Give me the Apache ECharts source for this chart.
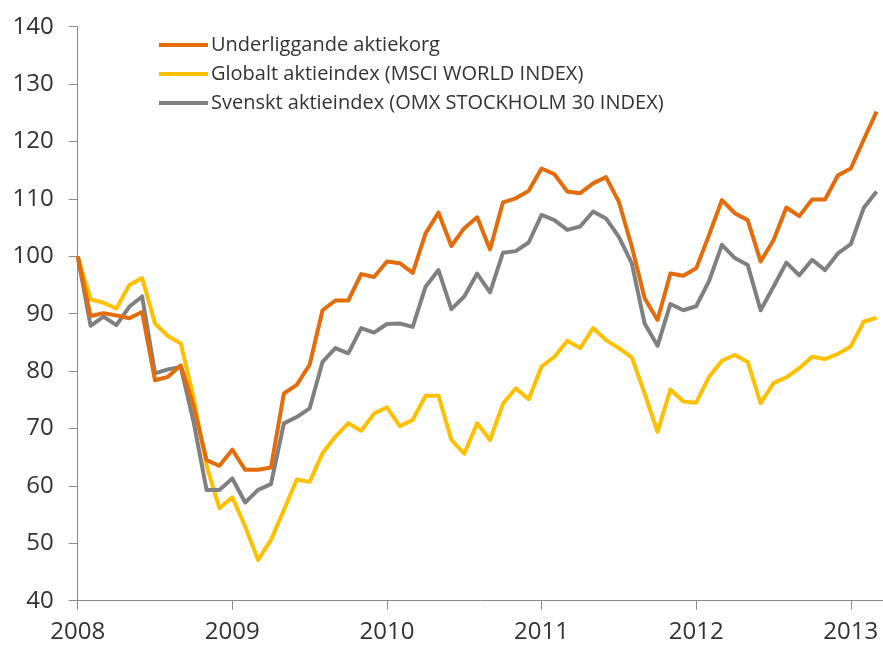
<!DOCTYPE html>
<html>
<head>
<meta charset="utf-8">
<script src="https://cdn.jsdelivr.net/npm/echarts@6/dist/echarts.min.js"></script>
<style>
  html, body { margin: 0; padding: 0; background: #fff; }
  #chart { width: 883px; height: 646px; }
</style>
</head>
<body>
<div id="chart"></div>
<script>
// monthly index values, Jan 2008 (= 100) to Mar 2013
const startYear = 2008;
const yearTicks = [2008, 2009, 2010, 2011, 2012, 2013];

const seriesNames = [
  "Underliggande aktiekorg",
  "Globalt aktieindex (MSCI WORLD INDEX)",
  "Svenskt aktieindex (OMX STOCKHOLM 30 INDEX)",
];

const underliggande = [
  100, 89.6, 90.1, 89.7, 89.2, 90.3, 78.4, 79, 81, 73.9, 64.5, 63.5,
  66.3, 62.8, 62.8, 63.2, 76.1, 77.6, 81.1, 90.6, 92.3, 92.3, 96.9, 96.4,
  99.1, 98.8, 97.1, 104, 107.6, 101.8, 104.9, 106.8, 101.2, 109.4, 110.1, 111.4,
  115.3, 114.3, 111.3, 111, 112.7, 113.8, 109.5, 101.7, 92.7, 88.9, 97, 96.6,
  97.9, 103.7, 109.8, 107.5, 106.3, 99.1, 102.8, 108.5, 107, 109.9, 109.9, 114.1,
  115.3, 120.3, 125.2,
];

const globalt = [
  100, 92.5, 91.9, 90.9, 95, 96.2, 88.3, 86.1, 84.8, 75.3, 63.5, 56.1,
  58, 52.9, 47.1, 50.6, 55.8, 61.1, 60.7, 65.7, 68.6, 70.9, 69.6, 72.6,
  73.7, 70.4, 71.5, 75.7, 75.7, 68, 65.6, 70.9, 68, 74.3, 77, 75.1,
  80.8, 82.5, 85.3, 84, 87.5, 85.4, 84, 82.4, 76.1, 69.4, 76.8, 74.7,
  74.5, 79, 81.8, 82.8, 81.6, 74.4, 77.9, 78.9, 80.5, 82.5, 82.1, 83,
  84.3, 88.6, 89.3,
];

const svenskt = [
  100, 87.9, 89.5, 88, 91.2, 93, 79.6, 80.3, 80.7, 71.1, 59.3, 59.3,
  61.3, 57.1, 59.3, 60.3, 70.9, 72, 73.5, 81.6, 84, 83.1, 87.5, 86.7,
  88.2, 88.3, 87.7, 94.7, 97.6, 90.8, 93, 97, 93.7, 100.6, 100.9, 102.4,
  107.2, 106.3, 104.6, 105.2, 107.8, 106.6, 103.4, 98.8, 88.3, 84.4, 91.7, 90.6,
  91.3, 95.7, 102, 99.7, 98.5, 90.6, 94.7, 98.9, 96.7, 99.4, 97.6, 100.5,
  102.1, 108.4, 111.3,
];

const colors = ["#E46C0A", "#FFC000", "#808080"];
const font = "Open Sans";
const axisColor = "#8a8a8a";
const textColor = "#333";

// x is months since Jan 2008
const toPairs = (arr) => arr.map((v, i) => [i, v]);
const yearMonths = yearTicks.map((y) => (y - startYear) * 12);

const chart = echarts.init(document.getElementById("chart"), null, { renderer: "canvas" });

chart.setOption({
  animation: false,
  backgroundColor: "#fff",
  color: colors,
  grid: {
    left: 77.7,
    right: 0,
    top: 26.7,
    bottom: 45.3,
    containLabel: false,
  },
  legend: {
    orient: "vertical",
    left: 154,
    top: 30,
    itemWidth: 49,
    itemHeight: 20,
    itemGap: 9,
    data: seriesNames.map((name, i) => ({
      name,
      icon: "path://M0,8 L49,8 L49,12 L0,12 Z",
      itemStyle: { color: colors[i] },
    })),
    textStyle: {
      fontFamily: font,
      fontSize: 20,
      color: textColor,
      lineHeight: 20,
      padding: [0, 0, 0, -2],
    },
  },
  xAxis: {
    type: "value",
    min: 0,
    max: 62.5,
    interval: 12,
    axisLine: { show: true, lineStyle: { color: axisColor, width: 1 } },
    axisTick: {
      show: true,
      length: 9,
      customValues: yearMonths,
      lineStyle: { color: axisColor, width: 1 },
    },
    axisLabel: {
      customValues: yearMonths,
      formatter: (v) => String(startYear + Math.round(v / 12)),
      fontFamily: font,
      fontSize: 24,
      color: textColor,
      margin: 19,
    },
    splitLine: { show: false },
  },
  yAxis: {
    type: "value",
    min: 40,
    max: 140,
    interval: 10,
    axisLine: { show: true, lineStyle: { color: axisColor, width: 1 } },
    axisTick: { show: true, length: 9, lineStyle: { color: axisColor, width: 1 } },
    axisLabel: {
      fontFamily: font,
      fontSize: 24,
      color: textColor,
      margin: 24,
    },
    splitLine: { show: false },
  },
  series: [
    { name: seriesNames[0], data: toPairs(underliggande) },
    { name: seriesNames[1], data: toPairs(globalt) },
    { name: seriesNames[2], data: toPairs(svenskt) },
  ].map((s, i) => ({
    ...s,
    type: "line",
    symbol: "none",
    z: i === 1 ? 1 : i === 2 ? 2 : 3,
    lineStyle: { width: 4, color: colors[i], join: "round" },
    itemStyle: { color: colors[i] },
  })),
});
</script>
</body>
</html>
